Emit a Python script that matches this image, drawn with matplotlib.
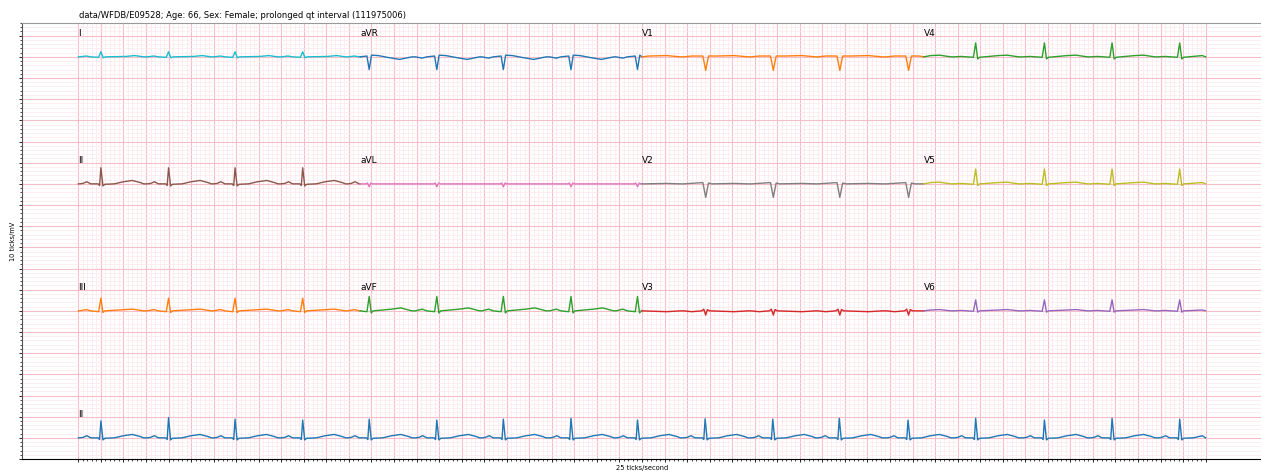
import numpy as np
import matplotlib
matplotlib.use("Agg")
import matplotlib.pyplot as plt
from matplotlib.ticker import FixedLocator, NullFormatter

TITLE = "data/WFDB/E09528; Age: 66, Sex: Female; prolonged qt interval (111975006)"

# R-peak times (s)
beat_times = [0.20, 0.80, 1.39, 1.99, 2.58, 3.18, 3.77, 4.37, 4.96,
              5.56, 6.16, 6.75, 7.36, 7.96, 8.57, 9.17, 9.77]

# 3 x 4 layout, column-major like the printout
lead_names = ["I", "II", "III", "aVR", "aVL", "aVF",
              "V1", "V2", "V3", "V4", "V5", "V6"]
lead_colors = ["tab:cyan", "tab:brown", "tab:orange",
               "tab:blue", "tab:pink", "tab:green",
               "tab:orange", "tab:gray", "tab:red",
               "tab:green", "tab:olive", "tab:purple"]

# one beat per lead: (offset from R peak in s, amplitude in mV)
beat_I = [(-0.19, 0.0), (-0.13, 0.02), (-0.09, 0.0), (-0.02, -0.01), (0.0, 0.12),
          (0.02, -0.02), (0.04, 0.0), (0.22, 0.01), (0.30, 0.03), (0.38, 0.0)]
beat_II = [(-0.19, 0.0), (-0.16, 0.01), (-0.125, 0.05), (-0.09, 0.0), (-0.025, 0.0),
           (-0.012, -0.04), (0.0, 0.38), (0.018, -0.05), (0.035, -0.01), (0.12, 0.0),
           (0.20, 0.05), (0.28, 0.08), (0.35, 0.03), (0.38, 0.0)]
beat_III = [(-0.19, 0.0), (-0.13, 0.03), (-0.09, 0.0), (-0.02, -0.02), (0.0, 0.30),
            (0.018, -0.04), (0.035, 0.0), (0.28, 0.04), (0.38, 0.0)]
beat_aVR = [(-0.19, 0.0), (-0.13, -0.03), (-0.09, 0.0), (-0.02, 0.02), (0.0, -0.30),
            (0.02, 0.04), (0.08, 0.03), (0.18, -0.02), (0.27, -0.06), (0.36, -0.01),
            (0.38, 0.0)]
beat_aVL = [(-0.19, 0.0), (-0.03, 0.0), (-0.015, 0.02), (0.0, -0.07), (0.015, 0.02),
            (0.03, 0.0), (0.38, 0.0)]
beat_aVF = [(-0.19, 0.0), (-0.13, 0.04), (-0.09, 0.0), (-0.02, -0.02), (0.0, 0.34),
            (0.018, -0.05), (0.035, 0.0), (0.20, 0.04), (0.28, 0.07), (0.35, 0.02),
            (0.38, 0.0)]
beat_V1 = [(-0.19, 0.0), (-0.12, 0.02), (-0.02, 0.02), (0.005, -0.32), (0.03, 0.02),
           (0.10, 0.02), (0.26, 0.03), (0.38, 0.0)]
beat_V2 = [(-0.19, 0.0), (-0.02, 0.03), (0.005, -0.32), (0.03, 0.02), (0.06, 0.0),
           (0.26, 0.01), (0.38, 0.0)]
beat_V3 = [(-0.19, 0.0), (-0.12, -0.02), (-0.03, 0.0), (-0.012, 0.04), (0.005, -0.10),
           (0.02, 0.03), (0.04, 0.0), (0.26, -0.02), (0.38, 0.0)]
beat_V4 = [(-0.19, 0.0), (-0.13, 0.01), (-0.02, -0.01), (0.0, 0.33), (0.018, -0.05),
           (0.035, -0.01), (0.20, 0.03), (0.28, 0.04), (0.38, 0.0)]
beat_V5 = [(-0.19, 0.0), (-0.13, 0.01), (-0.02, -0.01), (0.0, 0.35), (0.018, -0.04),
           (0.035, 0.0), (0.20, 0.03), (0.28, 0.04), (0.38, 0.0)]
beat_V6 = [(-0.19, 0.0), (-0.13, 0.01), (-0.02, -0.01), (0.0, 0.26), (0.018, -0.03),
           (0.035, 0.0), (0.20, 0.02), (0.28, 0.03), (0.38, 0.0)]
beats = [beat_I, beat_II, beat_III, beat_aVR, beat_aVL, beat_aVF,
         beat_V1, beat_V2, beat_V3, beat_V4, beat_V5, beat_V6]

# rhythm strip (lead II, full 10 s): R height per beat, mV
rhythm_r_amp = [0.40, 0.48, 0.44, 0.42, 0.44, 0.42, 0.44, 0.46, 0.42,
                0.45, 0.44, 0.46, 0.42, 0.46, 0.42, 0.46, 0.44]

SECS = 2.5        # seconds per column
ROW_H = 3.0       # mV between row baselines
MAJOR = (0.97, 0.74, 0.79)
MINOR = (0.995, 0.91, 0.93)


def build_trace(beat, t0, t1, r_amps=None):
    ts, vs = [t0], [0.0]
    for k, tb in enumerate(beat_times):
        for dt, v in beat:
            t = tb + dt
            if t0 < t < t1:
                if r_amps is not None and dt == 0.0:
                    v = r_amps[k]
                ts.append(t)
                vs.append(v)
    ts.append(t1)
    vs.append(0.0)
    return np.array(ts), np.array(vs)


fig = plt.figure(figsize=(12.61, 4.73), dpi=100)
ax = fig.add_axes([22 / 1261, 14 / 473, 1240 / 1261, 436 / 473])

for i, (name, beat, color) in enumerate(zip(lead_names, beats, lead_colors)):
    col, row = i // 3, i % 3
    t0 = col * SECS
    off = -row * ROW_H
    t, v = build_trace(beat, t0, t0 + SECS)
    ax.plot(t, v + off, color=color, lw=1.0)
    ax.text(t0, off + 0.5, name, fontsize=6.5, ha="left", va="baseline")

off = -3 * ROW_H
t, v = build_trace(beat_II, 0.0, 4 * SECS, r_amps=rhythm_r_amp)
ax.plot(t, v + off, color="tab:blue", lw=1.0)
ax.text(0.0, off + 0.5, "II", fontsize=6.5, ha="left", va="baseline")

ax.set_xlim(-0.5, 10.5)
ax.set_ylim(-9.5, 0.8)
ax.xaxis.set_major_locator(FixedLocator(np.arange(0, 10.001, 0.2)))
ax.xaxis.set_minor_locator(FixedLocator(np.arange(0, 10.001, 0.04)))
ax.yaxis.set_major_locator(FixedLocator(np.arange(-9.5, 0.81, 0.5)))
ax.yaxis.set_minor_locator(FixedLocator(np.arange(-9.5, 0.81, 0.1)))
ax.xaxis.set_major_formatter(NullFormatter())
ax.yaxis.set_major_formatter(NullFormatter())
ax.tick_params(which="major", length=2.0, width=0.6)
ax.tick_params(which="minor", length=1.2, width=0.5)
ax.grid(which="major", color=MAJOR, lw=0.8)
ax.grid(which="minor", color=MINOR, lw=0.5)

ax.spines["right"].set_visible(False)
ax.spines["top"].set_color("#999999")
ax.spines["left"].set_color("#555555")
ax.spines["bottom"].set_color("black")
for s in ax.spines.values():
    s.set_linewidth(0.8)

fig.text(79 / 1261, 1 - 18 / 473, TITLE, fontsize=6, ha="left", va="baseline")
fig.text(642 / 1261, 1 - 468 / 473, "25 ticks/second", fontsize=4.75,
         ha="center", va="center")
fig.text(13 / 1261, 1 - 241 / 473, "10 ticks/mV", fontsize=4.75,
         rotation=90, ha="center", va="center")

fig.savefig("out.png", dpi=100)
